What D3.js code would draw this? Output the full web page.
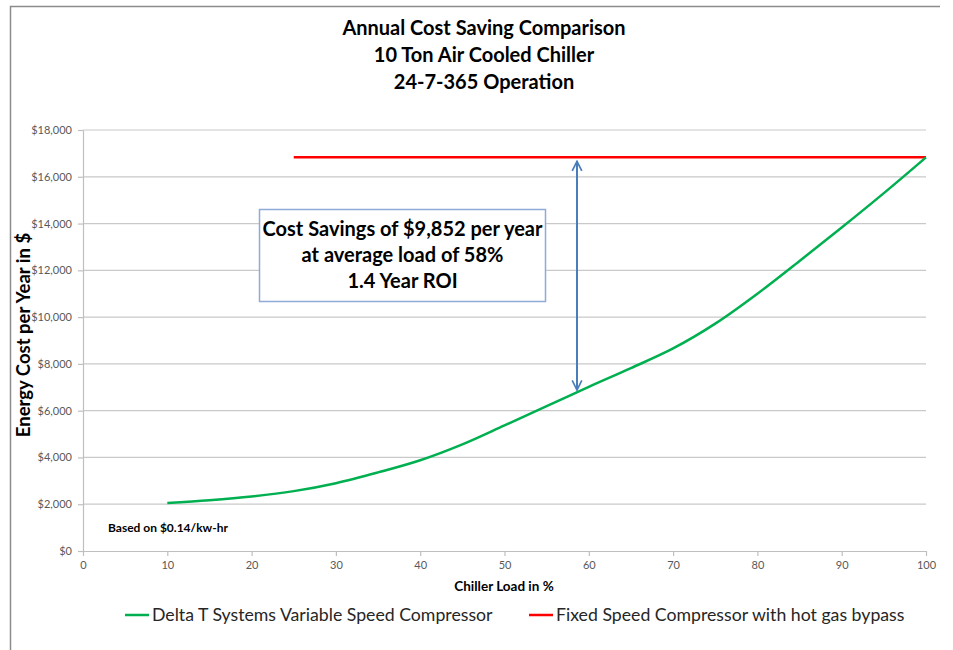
<!DOCTYPE html>
<html lang="en">
<head>
    <meta charset="UTF-8">
    <title>Annual Cost Saving Comparison</title>
    <script src="https://cdn.jsdelivr.net/npm/d3@7/dist/d3.min.js"></script>
    <style>
        body { margin: 0; background: #fff; }
        svg text { font-family: Lato, Carlito, Calibri, sans-serif; }
        .tick text { fill: #595959; font-size: 11px; }
    </style>
</head>
<body>
<svg id="chart" width="953" height="650"></svg>
<script>
    // chart data
    const loadPct = [10, 15, 20, 25, 30, 35, 40, 45, 50, 55, 60, 65, 70, 75, 80, 85, 90, 95, 100];
    const variableCost = [2050, 2170, 2330, 2560, 2900, 3360, 3880, 4560, 5370, 6190, 7020, 7820, 8660, 9720, 11000, 12400, 13830, 15300, 16830];
    const fixedLoad = [25, 100];
    const fixedCost = [16830, 16830];
    const xTicks = [0, 10, 20, 30, 40, 50, 60, 70, 80, 90, 100];
    const yTicks = [0, 2000, 4000, 6000, 8000, 10000, 12000, 14000, 16000, 18000];
    const titleLines = ['Annual Cost Saving Comparison', '10 Ton Air Cooled Chiller', '24-7-365 Operation'];
    const noteLines = ['Cost Savings of $9,852 per year', 'at average load of 58%', '1.4 Year ROI'];
    const arrowLoad = 58.6;
    const arrowCost = [16660, 6880];
    const seriesNames = ['Delta T Systems Variable Speed Compressor', 'Fixed Speed Compressor with hot gas bypass'];

    let svg = d3.select('svg#chart');
    let plot = {left: 83, right: 926, top: 130, bottom: 551};

    let xScale = d3.scaleLinear().domain([0, 100]).range([plot.left, plot.right]);
    let yScale = d3.scaleLinear().domain([0, 18000]).range([plot.bottom, plot.top]);

    // outer frame (left + top edge visible)
    svg.append('path')
        .attr('d', 'M10.5,650 V6.5 H940')
        .attr('fill', 'none')
        .attr('stroke', '#8c8c8c')
        .attr('stroke-width', 1.5);

    // title
    svg.append('g').selectAll('text')
        .data(titleLines)
        .enter()
        .append('text')
        .attr('x', 484)
        .attr('y', function (d, i) { return 35 + i * 27; })
        .attr('text-anchor', 'middle')
        .style('font-size', '20px')
        .style('font-weight', 'bold')
        .style('fill', '#000')
        .text(function (d) { return d; });

    // gridlines
    svg.append('g').selectAll('line')
        .data(yTicks.slice(1))
        .enter()
        .append('line')
        .attr('x1', plot.left).attr('x2', plot.right)
        .attr('y1', function (d) { return yScale(d); })
        .attr('y2', function (d) { return yScale(d); })
        .attr('stroke', '#c9c9c9')
        .attr('stroke-width', 1.2);

    // axes
    let xAxis = svg.append('g')
        .attr('transform', 'translate(0,' + plot.bottom + ')')
        .call(d3.axisBottom(xScale).tickValues(xTicks).tickSize(5).tickPadding(5).tickSizeOuter(0));
    let yAxis = svg.append('g')
        .attr('transform', 'translate(' + plot.left + ',0)')
        .call(d3.axisLeft(yScale).tickValues(yTicks).tickFormat(d3.format('$,')).tickSize(5).tickPadding(6).tickSizeOuter(0));
    svg.selectAll('.domain, .tick line').attr('stroke', '#bfbfbf').attr('stroke-width', 1.2);

    // axis titles
    svg.append('text')
        .attr('transform', 'translate(30,335) rotate(-90)')
        .attr('text-anchor', 'middle')
        .style('font-size', '18.5px')
        .style('font-weight', 'bold')
        .text('Energy Cost per Year in $');
    svg.append('text')
        .attr('x', 504).attr('y', 591)
        .attr('text-anchor', 'middle')
        .style('font-size', '13.5px')
        .style('font-weight', 'bold')
        .text('Chiller Load in %');

    // note inside plot
    svg.append('text')
        .attr('x', 108).attr('y', 531.5)
        .style('font-size', '12px')
        .style('font-weight', 'bold')
        .text('Based on $0.14/kw-hr');

    // series lines
    let line = d3.line()
        .x(function (d) { return xScale(d[0]); })
        .y(function (d) { return yScale(d[1]); })
        .curve(d3.curveCatmullRom.alpha(0.5));

    svg.append('path')
        .datum(d3.zip(fixedLoad, fixedCost))
        .attr('d', line)
        .attr('fill', 'none')
        .attr('stroke', '#ff0000')
        .attr('stroke-width', 2.5);

    svg.append('path')
        .datum(d3.zip(loadPct, variableCost))
        .attr('d', line)
        .attr('fill', 'none')
        .attr('stroke', '#00b050')
        .attr('stroke-width', 2.5);

    // double-headed arrow
    let defs = svg.append('defs');
    defs.append('marker')
        .attr('id', 'head')
        .attr('viewBox', '0 0 10 10')
        .attr('refX', 9).attr('refY', 5)
        .attr('markerWidth', 6).attr('markerHeight', 6)
        .attr('markerUnits', 'strokeWidth')
        .attr('orient', 'auto-start-reverse')
        .append('path')
        .attr('d', 'M1,1 L9,5 L1,9')
        .attr('fill', 'none')
        .attr('stroke', '#4a7ebb')
        .attr('stroke-width', 1.4);

    svg.append('line')
        .attr('x1', xScale(arrowLoad)).attr('x2', xScale(arrowLoad))
        .attr('y1', yScale(arrowCost[0])).attr('y2', yScale(arrowCost[1]))
        .attr('stroke', '#4a7ebb')
        .attr('stroke-width', 2)
        .attr('marker-start', 'url(#head)')
        .attr('marker-end', 'url(#head)');

    // text box
    svg.append('rect')
        .attr('x', 259.5).attr('y', 209.5)
        .attr('width', 286).attr('height', 92)
        .attr('fill', '#fff')
        .attr('stroke', '#8eaad8')
        .attr('stroke-width', 1.5);
    svg.append('g').selectAll('text')
        .data(noteLines)
        .enter()
        .append('text')
        .attr('x', 402.5)
        .attr('y', function (d, i) { return 236 + i * 26; })
        .attr('text-anchor', 'middle')
        .style('font-size', '20px')
        .style('font-weight', 'bold')
        .text(function (d) { return d; });

    // legend
    let legendX = [125, 529];
    let legendColours = ['#00b050', '#ff0000'];
    let legend = svg.append('g').selectAll('g')
        .data(seriesNames)
        .enter()
        .append('g')
        .attr('transform', function (d, i) { return 'translate(' + legendX[i] + ',615)'; });
    legend.append('line')
        .attr('x1', 0).attr('x2', 24)
        .attr('stroke', function (d, i) { return legendColours[i]; })
        .attr('stroke-width', 2.5);
    legend.append('text')
        .attr('x', 27).attr('y', 6)
        .style('font-size', '17.7px')
        .style('fill', '#262626')
        .text(function (d) { return d; });
</script>
</body>
</html>
